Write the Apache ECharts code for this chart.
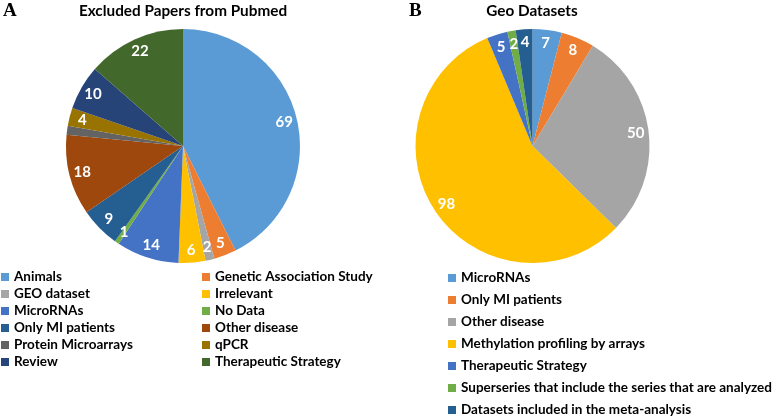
<!DOCTYPE html>
<html><head><meta charset="utf-8">
<script src="https://cdn.jsdelivr.net/npm/echarts@6/dist/echarts.min.js"></script>
<style>html,body{margin:0;padding:0;background:#fff}#c{width:778px;height:419px}</style>
</head><body><div id="c"></div>
<script>
const leftTitle = 'Excluded Papers from Pubmed';
const rightTitle = 'Geo Datasets';
const leftNames = ['Animals','Genetic Association Study','GEO dataset','Irrelevant','MicroRNAs','No Data','Only MI patients','Other disease','Protein Microarrays','qPCR','Review','Therapeutic Strategy'];
const leftValues = [69,5,2,6,14,1,9,18,2,4,10,22];
const leftColors = ['#5B9BD5','#ED7D31','#A5A5A5','#FFC000','#4472C4','#70AD47','#255E91','#9E480E','#636363','#997300','#264478','#43682B'];
const rightNames = ['MicroRNAs ','Only MI patients ','Other disease ','Methylation profiling by arrays','Therapeutic Strategy ','Superseries that include the series that are analyzed','Datasets included in the meta-analysis'];
const rightValues = [7,8,50,98,5,2,4];
const rightColors = ['#5B9BD5','#ED7D31','#A5A5A5','#FFC000','#4472C4','#70AD47','#255E91'];

const FONT = 'Lato';
const mk = (names, vals, cols) => names.map((n,i)=>({name:n, value:vals[i], itemStyle:{color:cols[i]}}));
const leftData = mk(leftNames,leftValues,leftColors);
const rightData = mk(rightNames,rightValues,rightColors);

function pie(center, data){
  return [{
    type:'pie', center:center, radius:[0,117], startAngle:90, clockwise:true,
    label:{show:false}, labelLine:{show:false}, silent:true, animation:false,
    itemStyle:{borderWidth:0}, data:data
  },{
    type:'pie', center:center, radius:[85,117], startAngle:90, clockwise:true, silent:true, animation:false,
    label:{show:true, position:'inside', formatter:'{c}', color:'#fff', fontWeight:'bold', fontSize:15, fontFamily:FONT},
    labelLine:{show:false},
    itemStyle:{color:'rgba(0,0,0,0)'},
    data:data.map(d=>({name:d.name, value:d.value}))
  }];
}
const legendText = {fontFamily:FONT, fontWeight:'bold', fontSize:13.5, color:'#000', lineHeight:14};
const chart = echarts.init(document.getElementById('c'), null, {renderer:'canvas'});
chart.setOption({
  backgroundColor:'#fff',
  animation:false,
  graphic:[
    {type:'text', left:3, top:2, style:{text:'A', font:'bold 19px "Liberation Serif"', fill:'#000'}},
    {type:'text', left:409, top:2, style:{text:'B', font:'bold 19px "Liberation Serif"', fill:'#000'}},
    {type:'text', x:183, y:11, style:{text:leftTitle, font:'bold 15.3px '+FONT, fill:'#000', textAlign:'center', textVerticalAlign:'middle'}},
    {type:'text', x:532, y:11, style:{text:rightTitle, font:'bold 15.3px '+FONT, fill:'#000', textAlign:'center', textVerticalAlign:'middle'}}
  ],
  legend:[
    {orient:'vertical', left:1, top:270, padding:0, icon:'rect', itemWidth:8, itemHeight:8, itemGap:3, textStyle:legendText,
     data:leftNames.filter((n,i)=>i%2===0), selectedMode:false},
    {orient:'vertical', left:202, top:270, padding:0, icon:'rect', itemWidth:8, itemHeight:8, itemGap:3, textStyle:legendText,
     data:leftNames.filter((n,i)=>i%2===1), selectedMode:false},
    {orient:'vertical', left:448, top:271, padding:0, icon:'rect', itemWidth:8, itemHeight:8, itemGap:8, textStyle:legendText,
     data:rightNames, selectedMode:false}
  ],
  series:[...pie([183,146], leftData), ...pie([532.5,146], rightData)]
});
</script></body></html>
